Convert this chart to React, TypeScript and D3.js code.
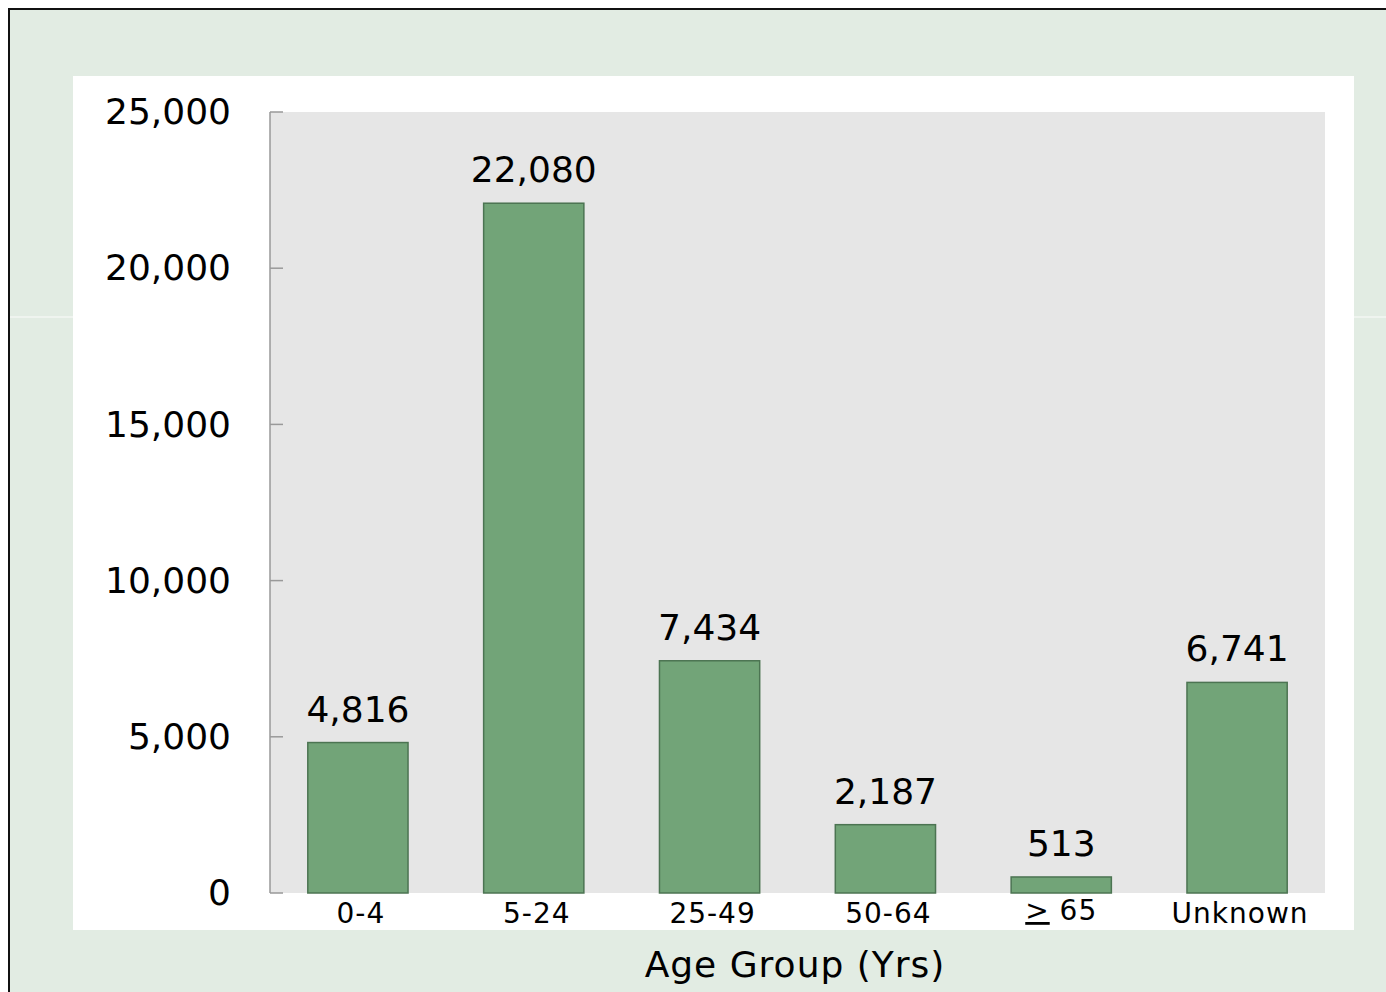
import React from "react";
import * as d3 from "d3";

const WIDTH = 1386;
const HEIGHT = 992;
const PLOT = { left: 270, right: 1325, top: 112, bottom: 893 };
const FONT = "'DejaVu Sans', Verdana, sans-serif";

const ageGroups = ["0-4", "5-24", "25-49", "50-64", ">= 65", "Unknown"];
const cases = [4816, 22080, 7434, 2187, 513, 6741];
const yTicks = [0, 5000, 10000, 15000, 20000, 25000];

const fmt = d3.format(",");

const AgeLabel = ({ label, x }: { label: string; x: number }) => {
  if (label === ">= 65") {
    return (
      <text x={x} y={920} textAnchor="middle" fontSize={28} letterSpacing={1}>
        <tspan textDecoration="underline">&gt;</tspan>
        <tspan> 65</tspan>
      </text>
    );
  }
  return (
    <text x={x + 3} y={923} textAnchor="middle" fontSize={28} letterSpacing={1}>
      {label}
    </text>
  );
};

const App = () => {
  const xScale = d3
    .scaleBand<string>()
    .domain(ageGroups)
    .range([PLOT.left, PLOT.right])
    .paddingInner(0.43)
    .paddingOuter(0.215);
  const yScale = d3
    .scaleLinear()
    .domain([0, 25000])
    .range([PLOT.bottom, PLOT.top]);

  return (
    <svg
      width={WIDTH}
      height={HEIGHT}
      style={{ position: "absolute", left: 0, top: 0 }}
      fontFamily={FONT}
    >
      <rect width={WIDTH} height={HEIGHT} fill="#ffffff" />
      <rect x={9} y={9} width={WIDTH + 20} height={HEIGHT + 20} fill="#e2ece3" stroke="#111" strokeWidth={2} />
      <line x1={10} x2={WIDTH} y1={317} y2={317} stroke="#f3f7f3" strokeWidth={1.5} />

      {/* white panel + plot area */}
      <rect x={73} y={76} width={1281} height={854} fill="#ffffff" />
      <rect
        x={PLOT.left}
        y={PLOT.top}
        width={PLOT.right - PLOT.left}
        height={PLOT.bottom - PLOT.top}
        fill="#e6e6e6"
      />

      {/* y axis */}
      <line x1={PLOT.left} x2={PLOT.left} y1={PLOT.top} y2={PLOT.bottom} stroke="#999" strokeWidth={1.5} />
      {yTicks.map((t) => (
        <g key={t}>
          <line x1={PLOT.left} x2={PLOT.left + 13} y1={yScale(t)} y2={yScale(t)} stroke="#999" strokeWidth={1.5} />
          <text x={231} y={yScale(t)} dy="0.34em" textAnchor="end" fontSize={36} fill="#000">
            {fmt(t)}
          </text>
        </g>
      ))}

      {/* bars */}
      {ageGroups.map((g, i) => {
        const x = xScale(g) as number;
        const y = yScale(cases[i]);
        return (
          <g key={g}>
            <rect
              x={x}
              y={y}
              width={xScale.bandwidth()}
              height={PLOT.bottom - y}
              fill="#72a478"
              stroke="#4c7452"
              strokeWidth={1.5}
            />
            <text x={x + xScale.bandwidth() / 2} y={y - 21} textAnchor="middle" fontSize={36} fill="#000">
              {fmt(cases[i])}
            </text>
            <AgeLabel label={g} x={x + xScale.bandwidth() / 2} />
          </g>
        );
      })}

      <text x={795} y={977} textAnchor="middle" fontSize={36} letterSpacing={1} fill="#000">
        Age Group (Yrs)
      </text>
    </svg>
  );
};

export default App;
